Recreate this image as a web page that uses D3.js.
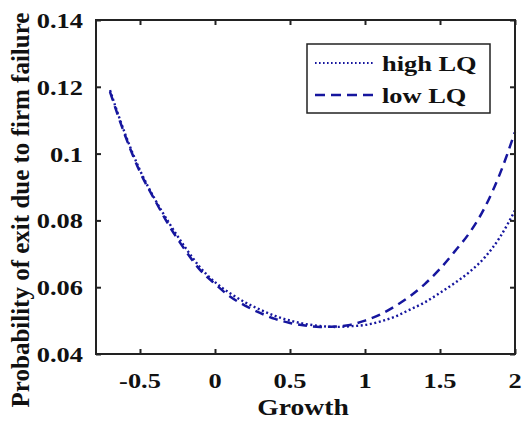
<!DOCTYPE html>
<html lang="en">

<head>
    <meta charset="UTF-8">
    <title>Probability of exit due to firm failure</title>
    <script src="https://d3js.org/d3.v7.min.js"></script>
    <style>
        body { margin: 0; background: #fff; }
        text { font-family: "Liberation Serif", "Times New Roman", serif; font-weight: bold; fill: #111; }
    </style>
</head>

<body>
    <svg id="chart" width="523" height="425"></svg>

    <script>
        // growth values (x)
        var growth = [-0.7, -0.6, -0.5, -0.4, -0.3, -0.2, -0.1, 0.0, 0.1, 0.2, 0.3, 0.4, 0.5, 0.6,
            0.7, 0.8, 0.9, 1.0, 1.1, 1.2, 1.3, 1.4, 1.5, 1.6, 1.7, 1.8, 1.9, 2.0];

        var highLQ = [0.1190, 0.1060, 0.0950, 0.0863, 0.0788, 0.0720, 0.0660, 0.0615, 0.0582, 0.0555,
            0.0533, 0.0514, 0.0500, 0.0490, 0.0484, 0.0481, 0.0483, 0.0487, 0.0497, 0.0512,
            0.0533, 0.0555, 0.0583, 0.0613, 0.0647, 0.0690, 0.0750, 0.0830];

        var lowLQ = [0.1185, 0.1055, 0.0945, 0.0860, 0.0780, 0.0712, 0.0652, 0.0610, 0.0572, 0.0545,
            0.0523, 0.0505, 0.0493, 0.0485, 0.0481, 0.0482, 0.0487, 0.0500, 0.0518, 0.0543,
            0.0573, 0.0610, 0.0655, 0.0708, 0.0765, 0.0840, 0.0940, 0.1065];

        var xTicks = [-0.5, 0, 0.5, 1, 1.5, 2];
        var yTicks = [0.04, 0.06, 0.08, 0.1, 0.12, 0.14];
        var seriesNames = ["high LQ", "low LQ"];

        var svg = d3.select("#chart");
        var blue = "#16169e";
        var plotLeft = 96, plotRight = 515, plotTop = 20, plotBottom = 354;

        var x = d3.scaleLinear().domain([-0.7933, 2]).range([plotLeft, plotRight]);
        var y = d3.scaleLinear().domain([0.04, 0.14]).range([plotBottom, plotTop]);

        // stretched text helper (reference glyphs are wider than tall)
        function label(px, py, str, anchor, size) {
            svg.append("text")
                .attr("transform", "translate(" + px + "," + py + ") scale(1.2,1)")
                .attr("text-anchor", anchor)
                .style("font-size", size + "px")
                .text(str);
        }

        // curves
        var line = d3.line()
            .x(function (d) { return x(d[0]); })
            .y(function (d) { return y(d[1]); })
            .curve(d3.curveMonotoneX);

        svg.append("path")
            .datum(d3.zip(growth, highLQ))
            .attr("d", line)
            .attr("fill", "none")
            .attr("stroke", blue)
            .attr("stroke-width", 2.4)
            .attr("stroke-dasharray", "2,2.6");

        svg.append("path")
            .datum(d3.zip(growth, lowLQ))
            .attr("d", line)
            .attr("fill", "none")
            .attr("stroke", blue)
            .attr("stroke-width", 2.5)
            .attr("stroke-dasharray", "9,6");

        // axes box, ticks inside on all sides
        var axisColor = "#222";
        svg.append("g").attr("transform", "translate(0," + plotBottom + ")")
            .call(d3.axisBottom(x).tickValues(xTicks).tickSize(-5).tickFormat(""));
        svg.append("g").attr("transform", "translate(0," + plotTop + ")")
            .call(d3.axisTop(x).tickValues(xTicks).tickSize(-5).tickFormat(""));
        svg.append("g").attr("transform", "translate(" + plotLeft + ",0)")
            .call(d3.axisLeft(y).tickValues(yTicks).tickSize(-5).tickFormat(""));
        svg.append("g").attr("transform", "translate(" + plotRight + ",0)")
            .call(d3.axisRight(y).tickValues(yTicks).tickSize(-5).tickFormat(""));
        svg.selectAll(".domain").remove();
        svg.selectAll(".tick line").attr("stroke", axisColor).attr("stroke-width", 2);

        svg.append("rect")
            .attr("x", plotLeft).attr("y", plotTop)
            .attr("width", plotRight - plotLeft).attr("height", plotBottom - plotTop)
            .attr("fill", "none").attr("stroke", axisColor).attr("stroke-width", 2);

        // tick labels
        xTicks.forEach(function (t) {
            label(x(t), 388, String(t), "middle", 22);
        });
        yTicks.forEach(function (t) {
            label(83, y(t) + 8, String(t), "end", 22);
        });

        // axis titles
        label(303, 415, "Growth", "middle", 23);
        svg.append("text")
            .attr("transform", "translate(29,210) rotate(-90)")
            .attr("text-anchor", "middle")
            .style("font-size", "25px")
            .text("Probability of exit due to firm failure");

        // legend
        svg.append("rect")
            .attr("x", 307).attr("y", 44).attr("width", 183).attr("height", 69)
            .attr("fill", "#fff").attr("stroke", axisColor).attr("stroke-width", 1.5);

        var legendY = [63, 95];
        svg.append("line")
            .attr("x1", 315).attr("x2", 375).attr("y1", legendY[0]).attr("y2", legendY[0])
            .attr("stroke", blue).attr("stroke-width", 2).attr("stroke-dasharray", "1.6,2.4");
        svg.append("line")
            .attr("x1", 315).attr("x2", 375).attr("y1", legendY[1]).attr("y2", legendY[1])
            .attr("stroke", blue).attr("stroke-width", 2.5).attr("stroke-dasharray", "10,6");
        seriesNames.forEach(function (s, i) {
            label(382, legendY[i] + 8, s, "start", 22);
        });
    </script>
</body>

</html>
